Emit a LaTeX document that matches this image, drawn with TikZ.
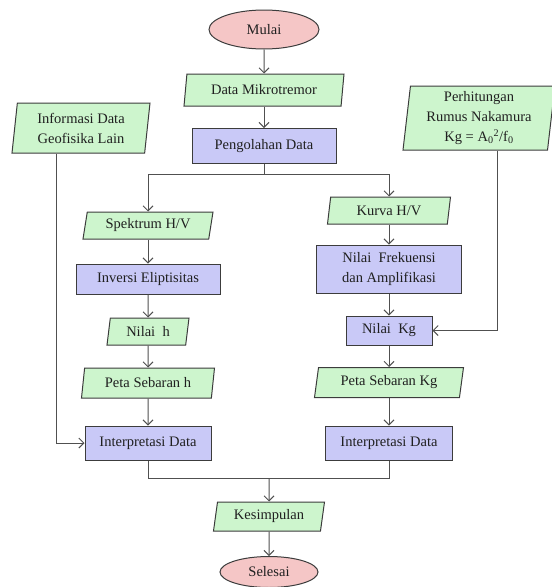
\documentclass[tikz,border=0pt]{standalone}
\usepackage{fontspec}
\setmainfont{Liberation Serif}
\usetikzlibrary{shapes.geometric,arrows.meta}
\definecolor{grn}{HTML}{CDF5CD}
\definecolor{blu}{HTML}{C9C9F7}
\definecolor{pnk}{HTML}{F5C6C6}
\definecolor{bord}{HTML}{3C3C3C}
\definecolor{conn}{HTML}{505050}
\definecolor{txt}{HTML}{202020}
\begin{document}
\begin{tikzpicture}[x=1pt,y=-1pt,
  base/.style={font=\fontsize{14.5}{20}\selectfont, text=txt, draw=bord, line width=1pt, inner sep=0pt, align=center},
  para/.style 2 args={base, trapezium, trapezium left angle=#1, trapezium right angle=#2, trapezium stretches body, fill=grn},
  proc/.style={base, rectangle, fill=blu},
  term/.style={base, ellipse, fill=pnk},
  conn/.style={draw=conn, line width=1pt},
  arr/.style={conn, -{Straight Barb[length=5pt,width=10pt]}}
]
\useasboundingbox (0,0) rectangle (552,587);

% nodes
\node[term, minimum width=110, minimum height=39] (mulai) at (264,29.5) {Mulai};
\node[para={74}{106}, minimum width=160, minimum height=32] (dm) at (264,90) {Data Mikrotremor};
\node[proc, minimum width=144, minimum height=35] (peng) at (264,146) {Pengolahan Data};
\node[para={80}{100}, minimum width=138, minimum height=50] (info) at (81,128) {Informasi Data\\Geofisika Lain};
\node[para={82}{98}, minimum width=152, minimum height=64] (perh) at (479,118) {Perhitungan\\Rumus Nakamura\\Kg = A\textsubscript{0}\textsuperscript{2}/f\textsubscript{0}};

\node[para={72}{108}, minimum width=130, minimum height=27] (spek) at (148,225.5) {Spektrum H/V};
\node[proc, minimum width=144, minimum height=30] (inv) at (148,279) {Inversi Eliptisitas};
\node[para={72}{108}, minimum width=82, minimum height=27] (nh) at (148,331.5) {Nilai~~h};
\node[para={73}{107}, minimum width=133, minimum height=30] (ph) at (148,383) {Peta Sebaran h};
\node[proc, minimum width=126, minimum height=34] (intl) at (148,443) {Interpretasi Data};

\node[para={72}{108}, minimum width=123, minimum height=27] (kurva) at (389,210.5) {Kurva H/V};
\node[proc, minimum width=145, minimum height=48] (nf) at (389,269) {Nilai~ Frekuensi\\dan Amplifikasi};
\node[proc, minimum width=86, minimum height=29] (nkg) at (389,330.5) {Nilai~ Kg};
\node[para={73}{107}, minimum width=149, minimum height=30] (pkg) at (389,382.5) {Peta Sebaran Kg};
\node[proc, minimum width=127, minimum height=34] (intr) at (389,443) {Interpretasi Data};

\node[para={73}{107}, minimum width=111, minimum height=29] (kes) at (269,516.5) {Kesimpulan};
\node[term, minimum width=98, minimum height=31] (sel) at (269,572) {Selesai};

% helper coordinates
\coordinate (split) at (264,174);
\coordinate (merge) at (269,478);
\coordinate (infoline) at (56,0);
\coordinate (perhline) at (497,0);

% connectors
\draw[arr] (mulai) -- (dm);
\draw[arr] (dm) -- (peng);
\draw[conn] (peng.south) -- (split);
\draw[arr] (split) -| (spek.north);
\draw[arr] (split) -| (kurva.north);
\draw[arr] (spek) -- (inv);
\draw[arr] (inv) -- (nh);
\draw[arr] (nh) -- (ph);
\draw[arr] (ph) -- (intl);
\draw[arr] (kurva) -- (nf);
\draw[arr] (nf) -- (nkg);
\draw[arr] (nkg) -- (pkg);
\draw[arr] (pkg) -- (intr);
\draw[arr] (info.south -| infoline) |- (intl.west);
\draw[arr] (perh.south -| perhline) |- (nkg.east);
\draw[conn] (intl.south) |- (merge);
\draw[conn] (intr.south) |- (merge);
\draw[arr] (merge) -- (kes);
\draw[arr] (kes) -- (sel);
\end{tikzpicture}
\end{document}
